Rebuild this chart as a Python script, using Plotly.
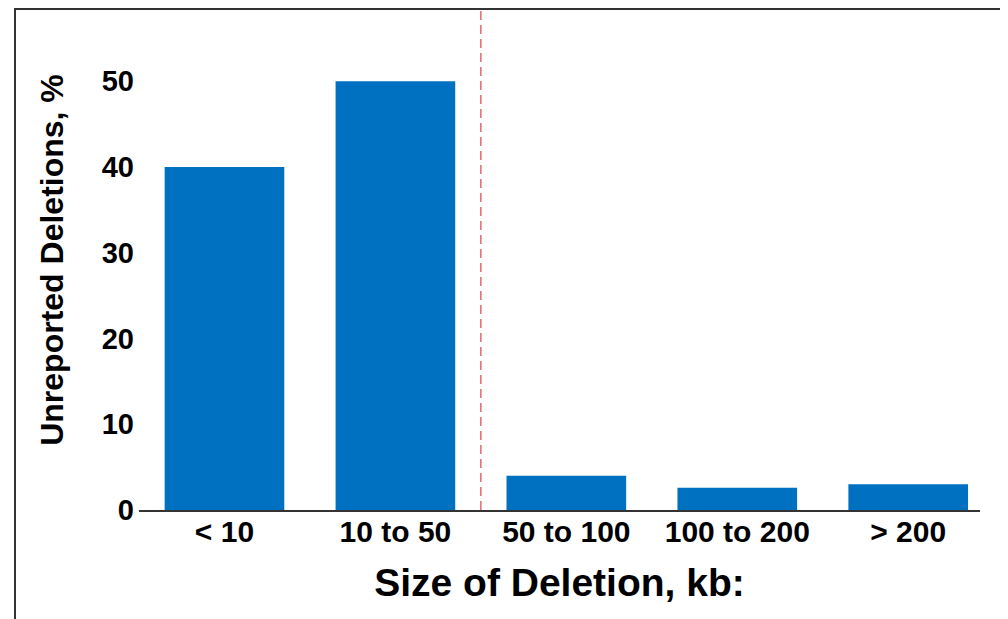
import plotly.graph_objects as go

categories = ["< 10", "10 to 50", "50 to 100", "100 to 200", "> 200"]
values = [40, 50, 4, 2.6, 3]
y_ticks = [0, 10, 20, 30, 40, 50]

FONT = "Liberation Sans, Arial, sans-serif"

OFF = 8  # page body margin
W, H = 1008, 619
L = 139 - OFF
T = 10 - OFF
R = W - (980 - OFF)
B = H - (510 - OFF)
pw, ph = W - L - R, H - T - B


def px_x(p):
    return (p - OFF - L) / pw


def px_y(p):
    return (H - B - (p - OFF)) / ph


fig = go.Figure()
fig.add_trace(go.Bar(
    x=categories, y=values,
    marker=dict(color="#0070C0", line=dict(width=0)),
    width=0.7,
))

shapes = [
    # divider between small and large deletions
    dict(type="line", xref="x", yref="paper", x0=1.5, x1=1.5, y0=0, y1=1,
         line=dict(color="#E04050", width=1.2, dash="9px,5px")),
    # frame
    dict(type="line", xref="paper", yref="paper", x0=px_x(15), x1=px_x(15),
         y0=px_y(8), y1=px_y(640), line=dict(color="#333333", width=2)),
    dict(type="line", xref="paper", yref="paper", x0=px_x(14), x1=px_x(1006),
         y0=px_y(9), y1=px_y(9), line=dict(color="#333333", width=2)),
    dict(type="line", xref="paper", yref="paper", x0=px_x(1005), x1=px_x(1005),
         y0=px_y(9), y1=px_y(640), line=dict(color="#AAAAAA", width=1.5)),
]

fig.update_layout(
    width=W, height=H,
    margin=dict(l=L, r=R, t=T, b=B),
    paper_bgcolor="white", plot_bgcolor="white",
    showlegend=False,
    font=dict(family=FONT, color="black"),
    shapes=shapes,
    xaxis=dict(
        type="category", range=[-0.5, 4.42],
        showline=True, linecolor="#333333", linewidth=1.5,
        ticks="", showgrid=False,
        ticklabelstandoff=-6,
        tickfont=dict(family=FONT, size=30, weight="bold", color="black"),
        title=dict(text="Size of Deletion, kb:", standoff=22,
                   font=dict(family=FONT, size=39, weight="bold", color="black")),
    ),
    yaxis=dict(
        range=[0, 58.3], tickvals=y_ticks, ticktext=[str(v) for v in y_ticks],
        showline=False, showgrid=False, zeroline=False, ticks="",
        ticklabelstandoff=4,
        tickfont=dict(family=FONT, size=29, weight="bold", color="black"),
        title=dict(text="Unreported Deletions, %", standoff=28,
                   font=dict(family=FONT, size=32, weight="bold", color="black")),
    ),
)

fig.write_html("out.html")
